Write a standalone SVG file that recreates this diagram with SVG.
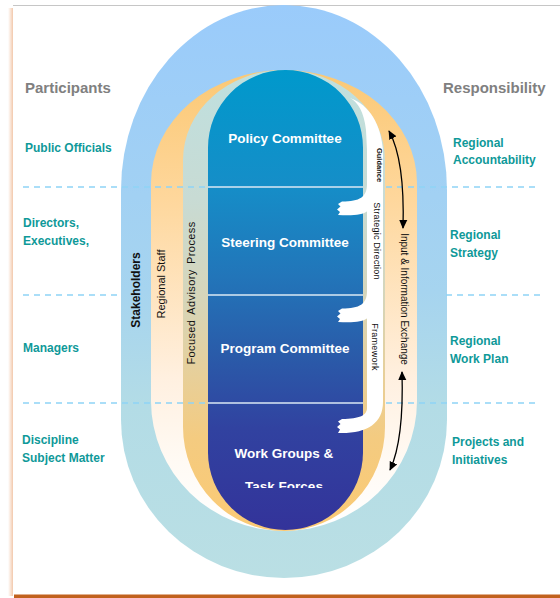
<svg xmlns="http://www.w3.org/2000/svg" width="560" height="598" viewBox="0 0 560 598">
<defs>
<style>
.hd{font-family:"Liberation Sans",Arial,sans-serif;font-weight:bold;font-size:15px;fill:#808080}
.lb{font-family:"Liberation Sans",Arial,sans-serif;font-weight:bold;font-size:12px;fill:#0f9999}
.cm{font-family:"Liberation Sans",Arial,sans-serif;font-weight:bold;font-size:13.5px;fill:#ffffff;text-anchor:middle}
.vt{font-family:"Liberation Sans",Arial,sans-serif;fill:#111;text-anchor:middle}
.dash{stroke:#8ed3f6;stroke-width:1.6;stroke-dasharray:6 5;fill:none}
.sep{stroke:#dbe9f4;stroke-width:1.3}
.arr{stroke:#000;stroke-width:1.3;fill:none;marker-start:url(#ah);marker-end:url(#ah)}
</style>
<linearGradient id="gOuter" gradientUnits="userSpaceOnUse" x1="0" y1="5" x2="0" y2="578">
<stop offset="0" stop-color="#9acbfb"/><stop offset="0.5" stop-color="#a6d4ef"/><stop offset="0.7" stop-color="#b3dce6"/><stop offset="1" stop-color="#badfe4"/>
</linearGradient>
<linearGradient id="gStaff" gradientUnits="userSpaceOnUse" x1="0" y1="70" x2="0" y2="531">
<stop offset="0" stop-color="#fbc874"/><stop offset="0.28" stop-color="#fed79c"/><stop offset="0.67" stop-color="#fff0e0"/><stop offset="0.85" stop-color="#fffaf4"/><stop offset="1" stop-color="#ffffff"/>
</linearGradient>
<linearGradient id="gFocus" gradientUnits="userSpaceOnUse" x1="0" y1="70" x2="0" y2="531">
<stop offset="0" stop-color="#bfe0df"/><stop offset="0.28" stop-color="#c8dbd4"/><stop offset="0.5" stop-color="#d6d5b9"/><stop offset="0.67" stop-color="#e8cf98"/><stop offset="0.8" stop-color="#f4cb80"/><stop offset="1" stop-color="#fbca74"/>
</linearGradient>
<linearGradient id="gDark" gradientUnits="userSpaceOnUse" x1="0" y1="70" x2="0" y2="530">
<stop offset="0" stop-color="#0099cc"/><stop offset="0.25" stop-color="#158ec8"/><stop offset="0.45" stop-color="#2275b9"/><stop offset="0.62" stop-color="#2a5ba9"/><stop offset="0.78" stop-color="#3142a0"/><stop offset="1" stop-color="#33339a"/>
</linearGradient>
<linearGradient id="gShadow" x1="0" y1="0" x2="1" y2="0">
<stop offset="0" stop-color="#f3c9ad" stop-opacity="0"/><stop offset="1" stop-color="#f1c2a2" stop-opacity="0.9"/>
</linearGradient>
<marker id="ah" viewBox="0 0 10 10" refX="9" refY="5" markerWidth="9" markerHeight="9" markerUnits="userSpaceOnUse" orient="auto-start-reverse">
<path d="M0,0.5 L10,5 L0,9.5 Z" fill="#000"/>
</marker>
<path id="hook" d="M31 -24 L29 -24 C29 -11 22 -6.5 4 -6.5 L0 -4 L2.5 -1.5 L-1 1.5 L2 4 L0 7 C14 8 25 7 29.5 3 L31 3 Z" fill="#fff"/>
<clipPath id="clipTF"><rect x="200" y="470" width="170" height="18"/></clipPath>
</defs>

<g id="frame">
<rect x="13" y="5" width="547" height="590" fill="#fff"/>
<rect x="8" y="8" width="5" height="588" fill="url(#gShadow)"/>
<line x1="13" y1="5.5" x2="560" y2="5.5" stroke="#c6c6c6" stroke-width="1"/>
<rect x="14" y="594.5" width="546" height="3.5" fill="#c1611d"/>
</g>

<g id="stakeholders">
<path d="M121 190 A163 185 0 0 1 447 190 L447 420 A163 158 0 0 1 121 420 Z" fill="url(#gOuter)"/>
</g>
<g id="regional-staff">
<path d="M151 183 A133 113 0 0 1 417 183 L417 401 A133 130 0 0 1 151 401 Z" fill="url(#gStaff)"/>
</g>
<g id="focused-advisory">
<path d="M183 160 A101 90 0 0 1 385 160 L385 427 A101 104 0 0 1 183 427 Z" fill="url(#gFocus)"/>
</g>

<g id="dividers">
<line class="dash" x1="23" y1="187" x2="207" y2="187"/>
<line class="dash" x1="23" y1="295" x2="121" y2="295"/>
<line class="dash" x1="23" y1="403" x2="207" y2="403"/>
<line class="dash" x1="386" y1="187" x2="540" y2="187"/>
<line class="dash" x1="446" y1="295" x2="540" y2="295"/>
<line class="dash" x1="386" y1="403" x2="540" y2="403"/>
</g>

<g id="policy-committee">
<path d="M208 187 L208 147.5 A77.5 77.5 0 0 1 363 147.5 L363 187 Z" fill="url(#gDark)"/>
<text class="cm" x="285" y="143">Policy Committee</text>
</g>
<g id="steering-committee">
<rect x="208" y="187" width="155" height="108" fill="url(#gDark)"/>
<text class="cm" x="285" y="247">Steering Committee</text>
</g>
<g id="program-committee">
<rect x="208" y="295" width="155" height="108" fill="url(#gDark)"/>
<text class="cm" x="285" y="353">Program Committee</text>
</g>
<g id="work-groups">
<path d="M208 403 L208 452.5 A77.5 77.5 0 0 0 363 452.5 L363 403 Z" fill="url(#gDark)"/>
<text class="cm" x="284" y="458">Work Groups &amp;</text>
<text class="cm" x="284" y="491" clip-path="url(#clipTF)">Task Forces</text>
</g>
<g id="separators">
<line class="sep" x1="208" y1="187" x2="363" y2="187"/>
<line class="sep" x1="208" y1="295" x2="363" y2="295"/>
<line class="sep" x1="208" y1="403" x2="363" y2="403"/>
</g>

<g id="connectors">
<path d="M350 98 C358 102 364 112 366 130 L367 150 L367 400 L383 400 L383 150 C381 125 370 105 350 98 Z" fill="#fff"/>
<use href="#hook" transform="translate(338,208)"/>
<use href="#hook" transform="translate(338,315)"/>
<path d="M367 395 L367 408 C367 415 360 419 342 419 L338 421.5 L340.5 424 L337 427 L340 429.5 L338 433 C366 434 383 424 383 402 L383 395 Z" fill="#fff"/>
<path class="arr" d="M389 131 Q405 160 403 228"/>
<path class="arr" d="M402 372 Q404 440 390 470"/>
<text class="vt" font-size="7.5" font-weight="bold" transform="translate(377,165) rotate(90)">Guidance</text>
<text class="vt" font-size="9" letter-spacing="0.2" transform="translate(374,241) rotate(90)">Strategic Direction</text>
<text class="vt" font-size="9" letter-spacing="0.3" transform="translate(372,347) rotate(90)">Framework</text>
<text class="vt" font-size="10" transform="translate(401,299) rotate(90)">Input &amp; Information Exchange</text>
</g>

<g id="band-labels">
<text class="vt" font-size="12" font-weight="bold" transform="translate(140,290) rotate(-90)">Stakeholders</text>
<text class="vt" font-size="11" transform="translate(165,284) rotate(-90)">Regional Staff</text>
<text class="vt" font-size="11" letter-spacing="0.4" word-spacing="2" transform="translate(195,293) rotate(-90)">Focused Advisory Process</text>
</g>

<g id="participants">
<text class="hd" x="25" y="93">Participants</text>
<text class="lb" x="25" y="152">Public Officials</text>
<text class="lb" x="23" y="227">Directors,</text>
<text class="lb" x="23" y="245">Executives,</text>
<text class="lb" x="23" y="352">Managers</text>
<text class="lb" x="22" y="444">Discipline</text>
<text class="lb" x="22" y="462">Subject Matter</text>
</g>
<g id="responsibility">
<text class="hd" x="443" y="93">Responsibility</text>
<text class="lb" x="453" y="147">Regional</text>
<text class="lb" x="453" y="164">Accountability</text>
<text class="lb" x="450" y="239">Regional</text>
<text class="lb" x="450" y="257">Strategy</text>
<text class="lb" x="450" y="345">Regional</text>
<text class="lb" x="450" y="363">Work Plan</text>
<text class="lb" x="452" y="446">Projects and</text>
<text class="lb" x="452" y="464">Initiatives</text>
</g>
</svg>
